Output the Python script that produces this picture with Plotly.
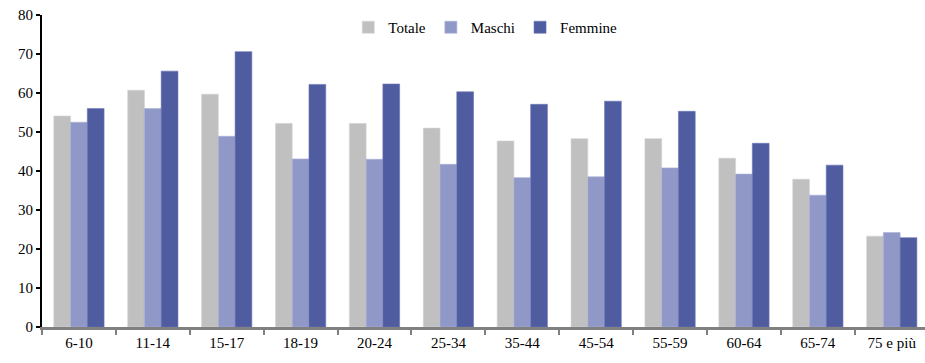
import plotly.graph_objects as go

# Age classes and percentages by sex
categories = ["6-10", "11-14", "15-17", "18-19", "20-24", "25-34",
              "35-44", "45-54", "55-59", "60-64", "65-74", "75 e più"]
totale = [54.1, 60.7, 59.7, 52.2, 52.2, 51.0, 47.7, 48.3, 48.3, 43.3, 37.9, 23.3]
maschi = [52.5, 56.0, 48.9, 43.1, 43.0, 41.7, 38.3, 38.5, 40.8, 39.2, 33.8, 24.2]
femmine = [56.0, 65.6, 70.6, 62.2, 62.3, 60.3, 57.1, 57.9, 55.3, 47.1, 41.5, 22.9]

series = [
    ("Totale", totale, "#C0C0C0", "#D4D4D4"),
    ("Maschi", maschi, "#9098C8", "#A8AED6"),
    ("Femmine", femmine, "#505CA0", "#6A74B4"),
]

fig = go.Figure()
for name, vals, color, edge in series:
    fig.add_trace(go.Bar(
        name=name, x=categories, y=vals,
        marker=dict(color=color, line=dict(color=edge, width=0.6)),
    ))

SERIF = "Liberation Serif, DejaVu Serif, serif"
font = dict(family=SERIF, size=15, color="#000000")

fig.update_layout(
    width=925, height=363,
    margin=dict(l=42, r=0, t=15, b=36),
    paper_bgcolor="white", plot_bgcolor="white",
    barmode="group", bargap=0.32, bargroupgap=0,
    font=font,
    showlegend=True,
    legend=dict(orientation="h", x=0.502, y=0.96, xanchor="center", yanchor="middle",
                font=dict(family=SERIF, size=15, color="#000000"),
                bgcolor="rgba(0,0,0,0)", itemwidth=30, tracegroupgap=0),
)

fig.update_xaxes(
    range=[-0.5, 11.45],
    showgrid=False, zeroline=False,
    showline=True, linecolor="#808080", linewidth=3,
    ticks="outside", tickson="boundaries", ticklen=5, tickwidth=2, tickcolor="#808080",
    tickfont=dict(family=SERIF, size=15, color="#000000"),
)
fig.update_yaxes(
    range=[0, 80], dtick=10,
    showgrid=False, zeroline=False,
    showline=True, linecolor="#000000", linewidth=2,
    ticks="outside", ticklen=4, tickwidth=2, tickcolor="#000000",
    tickfont=dict(family=SERIF, size=15, color="#000000"),
)

fig.write_html("out.html")
